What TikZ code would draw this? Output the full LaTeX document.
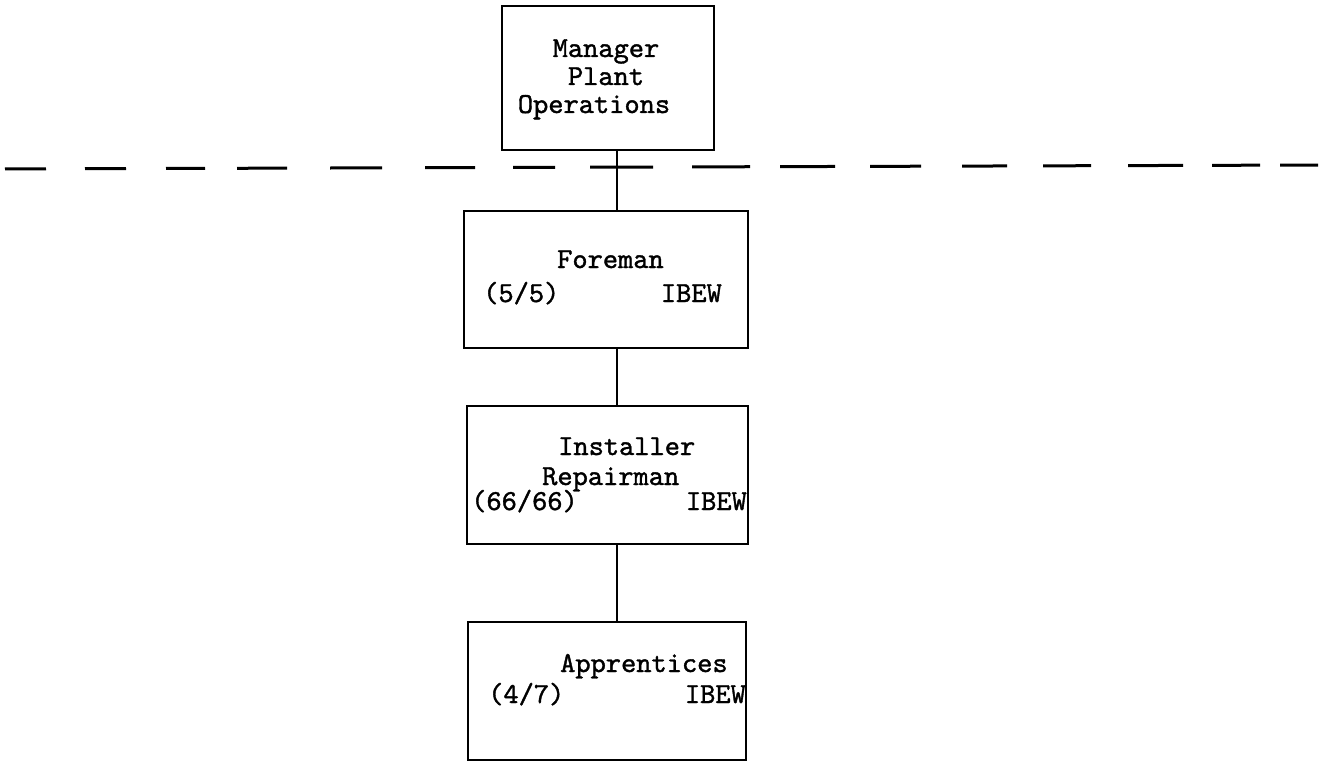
\documentclass[tikz,border=0pt]{standalone}
\usepackage{fontspec}
\newfontfamily\twfont[FakeBold=1.3]{lmmono10-regular.otf}
\begin{document}
\begin{tikzpicture}[x=1pt,y=-1pt,
  box/.style={draw=black,line width=2pt,rectangle,inner sep=0pt},
  lbl/.style={inner sep=0pt,font=\fontsize{29}{33}\selectfont\twfont},
  conn/.style={draw=black,line width=1.5pt},
  sep/.style={draw=black,line width=3pt}]
\fill[white] (0,0) rectangle (1324,762);
\useasboundingbox (0,0) rectangle (1324,762);
% boxes
\node[box,minimum width=212pt,minimum height=144pt] (mgr) at (608,78) {};
\node[box,minimum width=284pt,minimum height=137pt] (fore) at (606,279.5) {};
\node[box,minimum width=281pt,minimum height=138pt] (inst) at (607.5,475) {};
\node[box,minimum width=278pt,minimum height=138pt] (appr) at (607,691) {};
% dashed separator (drawn as individual dashes)
\foreach \a/\b in {5/46,85/126,166/205,237/287,330/382,425/475,513/555,590/653,692/750,780/835,870/921,962/1007,1043/1091,1128/1183,1212/1260,1280/1318}{
  \draw[sep] (\a,{169-4*\a/1324}) -- (\b,{169-4*\b/1324});
}
% connectors
\coordinate (cx) at (617,0);
\draw[conn] (mgr.south -| cx) -- (fore.north -| cx);
\draw[conn] (fore.south -| cx) -- (inst.north -| cx);
\draw[conn] (inst.south -| cx) -- (appr.north -| cx);
% texts
\node[lbl,anchor=base] (t1) at (606,57) {Manager};
\node[lbl,anchor=base] (t2) at (606,85) {Plant};
\node[lbl,anchor=base] (t3) at (594,113) {Operations};
\node[lbl,anchor=base west] (t4) at (557,268) {Foreman};
\node[lbl,anchor=base west] (t5) at (483,302) {(5/5)};
\node[lbl,anchor=base east] (t6) at (722,302) {IBEW};
\node[lbl,anchor=base west] (t7) at (558,455) {Installer};
\node[lbl,anchor=base west] (t8) at (542,485) {Repairman};
\node[lbl,anchor=base west] (t9) at (471,510) {(66/66)};
\node[lbl,anchor=base east] (t10) at (747,510) {IBEW};
\node[lbl,anchor=base west] (t11) at (560,672) {Apprentices};
\node[lbl,anchor=base west] (t12) at (488,703) {(4/7)};
\node[lbl,anchor=base east] (t13) at (746,703) {IBEW};
\end{tikzpicture}
\end{document}
